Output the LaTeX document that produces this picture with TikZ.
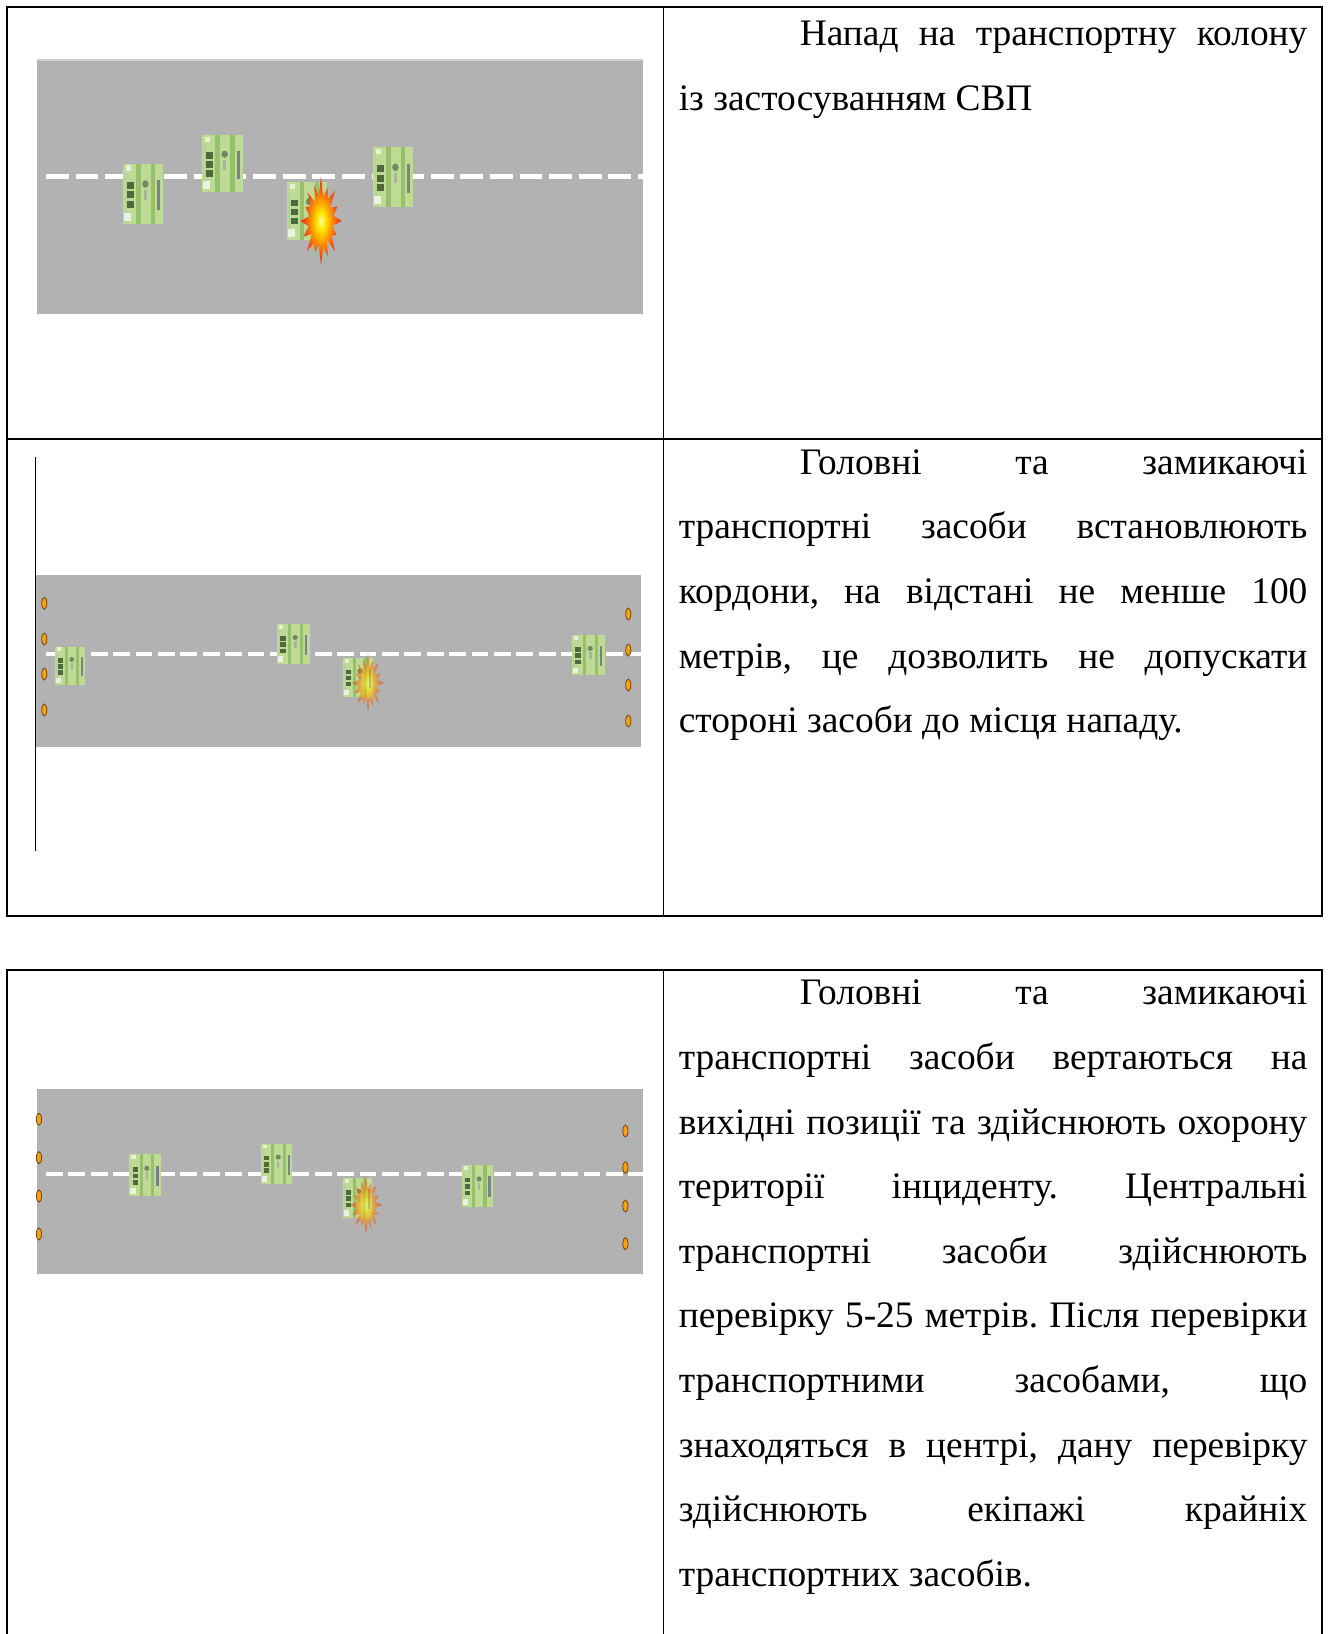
\documentclass[tikz,border=0pt]{standalone}
\usepackage{fontspec}
\setmainfont{Liberation Serif}
\frenchspacing

\definecolor{road}{RGB}{178,178,178}
\definecolor{roadedge}{RGB}{205,205,205}
\definecolor{truckbody}{RGB}{190,218,148}
\definecolor{truckstripe}{RGB}{150,192,108}
\definecolor{truckdark}{RGB}{78,106,60}
\definecolor{truckgrey}{RGB}{120,130,138}
\definecolor{conefill}{RGB}{246,160,20}
\definecolor{coneline}{RGB}{110,70,20}
\definecolor{blastcore}{RGB}{255,250,150}
\definecolor{blastyel}{RGB}{255,232,0}
\definecolor{blastorg}{RGB}{255,150,0}
\definecolor{blastred}{RGB}{238,70,20}

\pgfdeclareradialshading{blastshade}{\pgfpoint{0bp}{0bp}}{%
  color(0bp)=(blastcore); color(5bp)=(blastyel); color(12bp)=(blastorg);
  color(20bp)=(blastred); color(50bp)=(blastred)}

% text cells: justified lines, indented first line, free last line
\newlength\cellw \setlength\cellw{628.6pt}
\newcommand\cellfont{\fontsize{37.4pt}{64.6pt}\selectfont}
\newcommand\jl[1]{\hbox to\cellw{\spaceskip=0.25em plus 1fil minus 0.06em\relax #1}}
\newcommand\jli[1]{\hbox to\cellw{\hskip121pt\spaceskip=0.25em plus 1fil minus 0.06em\relax #1}}
\newcommand\el[1]{\hbox{#1}}

% top view of a camouflaged vehicle: x y width height
\newcommand\truck[4]{%
  \begin{scope}[shift={(#1,#2)},xscale=#3,yscale=#4]
    \fill[truckbody] (0,0.04) rectangle (1,1);
    \fill[truckstripe] (0.33,0.04) rectangle (0.44,1);
    \fill[truckstripe] (0.7,0.04) rectangle (0.8,1);
    \fill[truckstripe!70!white] (0.04,0.2) rectangle (0.1,0.9);
    \foreach \yy in {0.33,0.48,0.63}{\fill[truckdark] (0.11,\yy) rectangle (0.28,\yy+0.11);}
    \fill[truckgrey] (0.86,0.3) rectangle (0.93,0.78);
    \fill[truckdark!80] (0.56,0.36) ellipse (0.08 and 0.06);
    \fill[truckdark!50] (0.52,0.45) rectangle (0.6,0.62);
    \fill[white,opacity=0.7] (0.03,0.82) rectangle (0.2,0.95);
    \fill[white,opacity=0.6] (0.07,0.06) rectangle (0.2,0.15);
  \end{scope}}

% starburst: centre x y, half-width, half-height, opacity
\newcommand\blast[5]{%
  \begin{scope}[shift={(#1,#2)},xscale=#3,yscale=#4,opacity=#5]
    \shade[shading=blastshade] (0:1) -- (11:0.55) -- (22.5:0.8) -- (34:0.6) -- (45:0.95)
      -- (56:0.5) -- (67.5:0.85) -- (79:0.58) -- (90:1) -- (101:0.55) -- (112.5:0.75)
      -- (124:0.6) -- (135:0.95) -- (146:0.52) -- (157.5:0.9) -- (169:0.6) -- (180:1)
      -- (191:0.55) -- (202.5:0.8) -- (214:0.6) -- (225:0.9) -- (236:0.5) -- (247.5:0.85)
      -- (259:0.58) -- (270:1) -- (281:0.55) -- (292.5:0.8) -- (304:0.6) -- (315:0.95)
      -- (326:0.52) -- (337.5:0.85) -- (349:0.6) -- cycle;
  \end{scope}}

\newcommand\cone[2]{\draw[fill=conefill,draw=coneline,line width=0.8pt] (#1,#2) ellipse (2.6 and 6);}

\begin{document}
\begin{tikzpicture}[x=1pt,y=-1pt,
  frame/.style={line width=1.6pt,line cap=rect},
  lane/.style={white,line width=#1},
  celltext/.style={anchor=base west,inner sep=0pt}]
\useasboundingbox (0,0) rectangle (1329,1634);
\fill[white] (0,0) rectangle (1329,1634);

% ---- scene 1: the attack ----
\fill[road] (36.5,59.4) rectangle (643,313.8);
\fill[roadedge] (36.5,59.4) rectangle (643,60.6);
\draw[lane=5.5pt,dash pattern=on 22.7pt off 6.9pt] (46,176.7) -- (643,176.7);
\truck{123}{161.7}{40}{62}
\truck{201.7}{133}{41}{59}
\truck{286.7}{180}{40}{60}
\truck{373}{145}{40}{62}
\blast{321}{221}{21}{45}{1}

% ---- scene 2: cordons ----
\fill[road] (35.5,575.4) rectangle (641,747.4);
\draw[lane=4.2pt,dash pattern=on 16.8pt off 5.6pt] (46,654.3) -- (641,654.3);
\truck{55}{645}{30}{40}
\truck{276.7}{622.7}{33}{41}
\truck{343}{656.7}{30}{40}
\truck{571.7}{633.3}{33}{42}
\blast{368}{683}{16}{30}{0.55}
\draw[line width=1.2pt] (35.5,456.6) -- (35.5,850.6);
\foreach \cy in {603.3,639,674,710} {\cone{44.3}{\cy}}
\foreach \cy in {614,650,685,721} {\cone{628.3}{\cy}}

% ---- scene 3: inspection ----
\fill[road] (36.5,1089) rectangle (643,1274);
\draw[lane=4.2pt,dash pattern=on 16.8pt off 5.6pt] (46,1174) -- (643,1174);
\truck{129.3}{1152.7}{31.4}{43.3}
\truck{260.6}{1142}{31.4}{42}
\truck{343}{1176.7}{29}{41}
\truck{461.7}{1163.3}{31}{43.4}
\blast{366}{1205}{16}{30}{0.55}
\foreach \cy in {1119.3,1157.7,1196,1234} {\cone{39}{\cy}}
\foreach \cy in {1131,1167.5,1206,1243.6} {\cone{625.4}{\cy}}

% ---- table frames ----
\draw[frame] (7,7) rectangle (1322,916);
\draw[frame] (663.5,7) -- (663.5,916);
\draw[frame] (7,439) -- (1322,439);
\draw[frame] (7,1640) -- (7,970) -- (1322,970) -- (1322,1640);
\draw[frame] (663.5,970) -- (663.5,1640);

% ---- texts ----
\node[celltext] (txtA) at (678.6,45.9) {\cellfont\vtop{%
  \jli{Напад на транспортну колону}%
  \el{із застосуванням СВП}}};
\node[celltext] (txtB) at (678.6,474.3) {\cellfont\vtop{%
  \jli{Головні та замикаючі}%
  \jl{транспортні засоби встановлюють}%
  \jl{кордони, на відстані не менше 100}%
  \jl{метрів, це дозволить не допускати}%
  \el{стороні засоби до місця нападу.}}};
\node[celltext] (txtC) at (678.6,1004.9) {\cellfont\vtop{%
  \jli{Головні та замикаючі}%
  \jl{транспортні засоби вертаються на}%
  \jl{вихідні позиції та здійснюють охорону}%
  \jl{території інциденту. Центральні}%
  \jl{транспортні засоби здійснюють}%
  \jl{перевірку 5-25 метрів. Після перевірки}%
  \jl{транспортними засобами, що}%
  \jl{знаходяться в центрі, дану перевірку}%
  \jl{здійснюють екіпажі крайніх}%
  \el{транспортних засобів.}}};
\end{tikzpicture}
\end{document}
